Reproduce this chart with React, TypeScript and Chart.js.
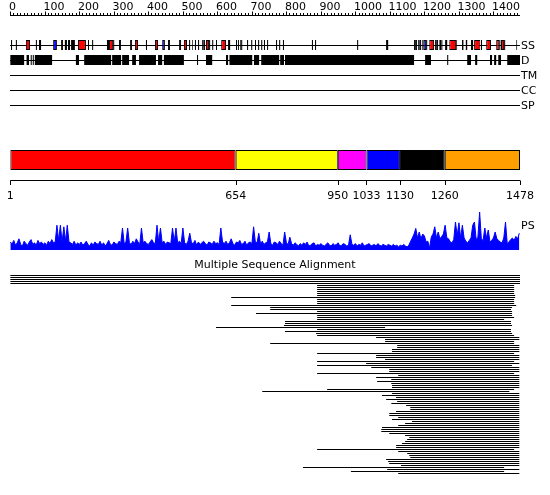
import React, { useEffect, useRef } from "react";
import { Chart, registerables } from "chart.js";

Chart.register(...registerables);

const SEQ_LEN = 1478;
const rulerLabels = [0, 100, 200, 300, 400, 500, 600, 700, 800, 900, 1000, 1100, 1200, 1300, 1400];
const rulerMinorStep = 10;
const trackNames = ["SS", "D", "TM", "CC", "SP"];
const psLabel = "PS";
const msaTitle = "Multiple Sequence Alignment";

const ssHelix: [number, number][] = [
  [46, 58], [148, 154], [197, 220], [287, 299], [348, 354], [362, 371], [420, 429], [504, 513],
  [568, 577], [612, 626], [1215, 1229], [1273, 1293], [1345, 1363], [1380, 1394], [1409, 1418],
  [1423, 1432], [1467, 1470],
];
const ssStrand: [number, number][] = [
  [125, 136], [316, 322], [441, 449], [458, 464], [490, 496], [560, 565], [597, 600], [661, 664],
  [667, 670], [1174, 1180], [1186, 1192], [1198, 1206], [1235, 1241], [1244, 1249], [1293, 1296],
];
const ssOther: [number, number][] = [
  [3, 6], [17, 20], [75, 78], [84, 90], [159, 165], [168, 174], [177, 188], [226, 229], [238, 241],
  [281, 287], [299, 302], [394, 397], [519, 522], [528, 530], [536, 539], [545, 548], [557, 560],
  [577, 580], [586, 589], [632, 638], [655, 658], [670, 673], [687, 690], [699, 702], [710, 713],
  [719, 722], [728, 731], [736, 739], [745, 748], [771, 774], [780, 783], [791, 794], [875, 878],
  [884, 887], [1006, 1009], [1090, 1096], [1171, 1174], [1183, 1186], [1195, 1198], [1206, 1209],
  [1232, 1235], [1250, 1253], [1261, 1267], [1310, 1314], [1321, 1325], [1336, 1342], [1365, 1368],
  [1418, 1421], [1432, 1435],
];
const disorder: [number, number][] = [
  [1, 41], [48, 55], [60, 63], [66, 69], [72, 122], [191, 200], [215, 293], [296, 322], [325, 345],
  [354, 365], [374, 423], [429, 441], [446, 504], [542, 545], [568, 586], [626, 632], [636, 702],
  [707, 722], [728, 780], [783, 794], [797, 1171], [1203, 1220], [1267, 1270], [1325, 1336],
  [1348, 1354], [1391, 1397], [1403, 1409], [1415, 1423], [1441, 1478],
];

const domainBounds = [1, 654, 950, 1033, 1130, 1260, 1478];
const domainColors = ["#ff0000", "#ffff00", "#ff00ff", "#0000ff", "#000000", "#ffa000"];

const psStep = 5;
const psScores = [
  20, 15, 24, 12, 18, 28, 14, 10, 22, 16, 12, 20, 26, 14, 18, 12, 24, 16, 20, 14,
  18, 12, 22, 16, 26, 18, 20, 62, 24, 62, 20, 58, 22, 62, 20, 18, 14, 22, 12, 18,
  14, 20, 12, 16, 22, 14, 10, 18, 12, 20, 16, 14, 22, 12, 18, 10, 16, 24, 14, 12,
  20, 16, 14, 22, 18, 55, 16, 20, 55, 18, 14, 22, 16, 28, 20, 14, 55, 18, 22, 16,
  14, 20, 26, 18, 16, 62, 20, 55, 18, 22, 14, 20, 18, 16, 55, 20, 55, 18, 22, 16,
  55, 18, 14, 22, 42, 18, 16, 24, 12, 20, 14, 18, 22, 16, 12, 20, 18, 14, 22, 16,
  18, 14, 55, 20, 16, 22, 14, 18, 28, 16, 12, 20, 18, 24, 14, 16, 22, 12, 18, 20,
  16, 58, 20, 18, 42, 16, 22, 14, 18, 20, 45, 16, 12, 20, 18, 14, 22, 16, 12, 45,
  18, 14, 32, 16, 12, 18, 14, 10, 16, 12, 18, 14, 20, 10, 12, 16, 18, 10, 14, 12,
  16, 12, 10, 14, 18, 12, 10, 16, 12, 14, 18, 10, 12, 16, 14, 10, 12, 38, 14, 12,
  16, 10, 14, 12, 18, 10, 12, 14, 16, 10, 12, 14, 10, 16, 12, 10, 14, 12, 10, 14,
  12, 10, 14, 10, 12, 8, 12, 10, 14, 10, 8, 12, 22, 30, 40, 54, 30, 45, 28, 40,
  35, 20, 22, 5, 33, 40, 58, 30, 45, 28, 34, 40, 62, 30, 28, 20, 18, 26, 70, 36,
  68, 30, 62, 30, 22, 18, 24, 30, 62, 70, 26, 32, 95, 28, 24, 55, 30, 50, 20, 24,
  30, 45, 28, 24, 20, 18, 30, 70, 16, 20, 26, 30, 24, 34, 28, 42,
];

const msaStart = [
  1, 1, 1, 1, 1, 890, 890, 890, 890, 890,
  890, 641, 890, 890, 890, 641, 754, 754, 890, 713,
  890, 890, 890, 797, 797, 794, 597, 890, 797, 887,
  890, 1061, 1087, 1087, 754, 1122, 1122, 1107, 1107, 890,
  1061, 1061, 1087, 890, 1032, 890, 1047, 1099, 1099, 890,
  1125, 1061, 1105, 1064, 1105, 1107, 1107, 919, 731, 1107,
  1078, 1119, 1090, 1122, 1105, 1148, 1160, 1160, 1119, 1099,
  1099, 1125, 1107, 1165, 1145, 1125, 1078, 1076, 1076, 1099,
  1145, 1157, 1151, 1145, 1136, 1119, 1119, 890, 1125, 1151,
  1157, 1160, 1090, 1096, 1099, 1133, 849, 1093, 988, 1125,
];
const msaEnd = [
  1478, 1478, 1478, 1478, 1478, 1461, 1461, 1461, 1461, 1461,
  1464, 1464, 1461, 1461, 1461, 1467, 1455, 1452, 1455, 1455,
  1455, 1461, 1432, 1452, 1452, 1455, 1087, 1452, 1452, 1455,
  1461, 1476, 1476, 1461, 1461, 1476, 1476, 1476, 1476, 1461,
  1476, 1476, 1476, 1461, 1476, 1455, 1476, 1476, 1476, 1461,
  1476, 1476, 1476, 1476, 1476, 1476, 1476, 1461, 1447, 1476,
  1476, 1476, 1476, 1476, 1476, 1476, 1476, 1476, 1476, 1476,
  1476, 1476, 1476, 1476, 1476, 1476, 1476, 1476, 1476, 1476,
  1476, 1476, 1476, 1476, 1476, 1476, 1476, 1461, 1476, 1476,
  1476, 1476, 1476, 1476, 1476, 1476, 1432, 1476, 1432, 1476,
];

export default function App() {
  const ref = useRef<HTMLCanvasElement | null>(null);

  useEffect(() => {
    const canvas = ref.current;
    if (!canvas) return;

    const W = 550, H = 495, LEFT = 10, RIGHT = 520;
    const FONT = '11px "DejaVu Sans", sans-serif';
    const RULER_Y = 15.5, RULER_LABEL_Y = 10;
    const trackY = [45, 60, 75, 90, 105];
    const BOX = 10;
    const DOM_Y = 160, DOM_H = 20, DOM_AXIS_Y = 180.5, DOM_LABEL_Y = 199;
    const PS_BASE = 250, PS_PX = 0.4, PS_LABEL_Y = 226;
    const TITLE_Y = 265;
    const MSA_TOP = 275.5, MSA_STEP = 2;
    const psMax = PS_BASE / PS_PX;
    const psMin = -(H - PS_BASE) / PS_PX;

    const bar = (over: any) => ({
      type: "bar",
      indexAxis: "y",
      xAxisID: "x",
      yAxisID: "y",
      grouped: false,
      inflateAmount: 0,
      borderSkipped: false,
      ...over,
    });
    const seg = (list: [number, number][], y: number) => list.map(([s, e]) => ({ x: [s, e], y }));

    const datasets: any[] = [
      bar({ data: seg(ssHelix, trackY[0]), backgroundColor: "#ff0000", borderColor: "#000", borderWidth: 1, barThickness: BOX }),
      bar({ data: seg(ssStrand, trackY[0]), backgroundColor: "#0000ff", borderColor: "#000", borderWidth: 1, barThickness: BOX }),
      bar({ data: seg(ssOther, trackY[0]), backgroundColor: "#000", borderWidth: 0, barThickness: BOX }),
      bar({ data: seg(disorder, trackY[1]), backgroundColor: "#000", borderWidth: 0, barThickness: BOX }),
      bar({ data: trackY.map((y) => ({ x: [0, SEQ_LEN], y: y + 0.5 })), backgroundColor: "#000", borderWidth: 0, barThickness: 1 }),
      bar({
        data: domainBounds.slice(0, -1).map((s, i) => ({ x: [s, domainBounds[i + 1]], y: DOM_Y })),
        backgroundColor: domainColors,
        borderColor: "#000",
        borderWidth: 1,
        barThickness: DOM_H,
      }),
      {
        type: "line",
        xAxisID: "x",
        yAxisID: "ps",
        data: psScores.map((v, j) => ({ x: 1 + j * psStep, y: v })),
        borderColor: "#0000ff",
        backgroundColor: "#0000ff",
        borderWidth: 1,
        pointRadius: 0,
        tension: 0,
        fill: { value: 0 },
      },
      bar({
        data: msaStart.map((s, k) => ({ x: [s, msaEnd[k]], y: MSA_TOP + k * MSA_STEP })),
        backgroundColor: "#000",
        borderWidth: 0,
        barThickness: 1,
      }),
    ];

    const overlay = {
      id: "overlay",
      afterDatasetsDraw(chart: any) {
        const ctx = chart.ctx as CanvasRenderingContext2D;
        const xs = chart.scales.x;
        const px = (v: number) => Math.round(xs.getPixelForValue(v)) + 0.5;
        ctx.save();
        ctx.strokeStyle = "#000";
        ctx.fillStyle = "#000";
        ctx.lineWidth = 1;
        ctx.font = FONT;

        // top ruler
        const majors = new Set(rulerLabels);
        ctx.beginPath();
        ctx.moveTo(xs.getPixelForValue(0), RULER_Y);
        ctx.lineTo(xs.getPixelForValue(SEQ_LEN), RULER_Y);
        for (let v = 0; v <= SEQ_LEN; v += rulerMinorStep) {
          const x = px(v);
          const len = majors.has(v) ? 4 : 2.5;
          ctx.moveTo(x, RULER_Y);
          ctx.lineTo(x, RULER_Y - len);
        }
        ctx.stroke();
        ctx.textAlign = "left";
        ctx.textBaseline = "alphabetic";
        rulerLabels.forEach((v) => ctx.fillText(String(v), xs.getPixelForValue(v) - 1, RULER_LABEL_Y));

        // track labels
        ctx.textBaseline = "middle";
        trackNames.forEach((n, i) => ctx.fillText(n, RIGHT + 1, trackY[i] + 1));
        ctx.fillText(psLabel, RIGHT + 1, PS_LABEL_Y);

        // domain axis
        ctx.beginPath();
        ctx.moveTo(xs.getPixelForValue(domainBounds[0]), DOM_AXIS_Y);
        ctx.lineTo(xs.getPixelForValue(domainBounds[domainBounds.length - 1]), DOM_AXIS_Y);
        domainBounds.forEach((b) => {
          const x = px(b);
          ctx.moveTo(x, DOM_AXIS_Y);
          ctx.lineTo(x, DOM_AXIS_Y + 4.5);
        });
        ctx.stroke();
        ctx.textAlign = "center";
        ctx.textBaseline = "alphabetic";
        domainBounds.forEach((b) => ctx.fillText(String(b), xs.getPixelForValue(b), DOM_LABEL_Y));

        // MSA title
        ctx.textBaseline = "middle";
        ctx.fillText(msaTitle, W / 2, TITLE_Y);
        ctx.restore();
      },
    };

    const chart = new Chart(canvas, {
      type: "bar",
      data: { datasets },
      options: {
        responsive: false,
        maintainAspectRatio: false,
        animation: false,
        events: [],
        layout: { padding: { left: LEFT, right: W - RIGHT, top: 0, bottom: 0 } },
        plugins: { legend: { display: false }, tooltip: { enabled: false }, title: { display: false } },
        scales: {
          x: { type: "linear", min: 0, max: SEQ_LEN, display: false, offset: false },
          y: { type: "linear", min: 0, max: H, reverse: true, display: false, offset: false },
          ps: { type: "linear", axis: "y", min: psMin, max: psMax, display: false, offset: false },
        },
      } as any,
      plugins: [overlay],
    });

    return () => chart.destroy();
  }, []);

  return (
    <div style={{ position: "absolute", left: 0, top: 0, width: 550, height: 495, background: "#fff" }}>
      <canvas ref={ref} width={550} height={495} style={{ display: "block" }} />
    </div>
  );
}
